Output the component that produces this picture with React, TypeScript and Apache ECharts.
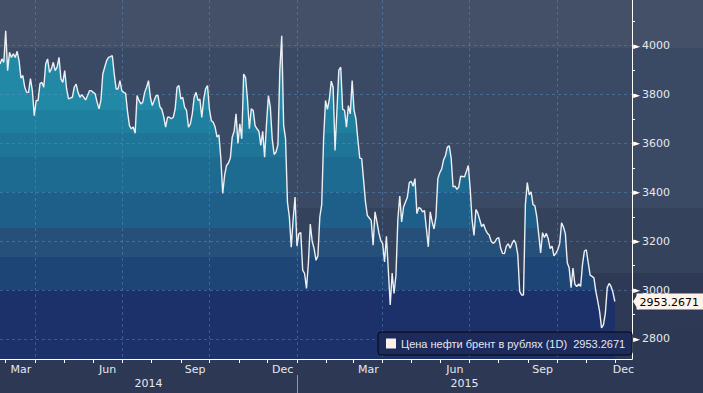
import React, { useEffect, useRef } from "react";
import * as echarts from "echarts";

// ---------- data ----------
const seriesName = "Цена нефти брент в рублях (1D)";
const startDate = "2014-02-23"; // first sample / left edge of the axis
const axisEndDate = "2015-12-19"; // right edge of the axis
const sampleStepDays = 2;
const lastPrice = 2953.2671;
const prices = [
  3925, 3946, 3932, 4061, 3898, 3973, 3952, 3967, 3952, 3977,
  3939, 3868, 3878, 3830, 3809, 3809, 3865, 3816, 3714, 3776,
  3776, 3845, 3850, 3830, 3925, 3946, 3891, 3905, 3932, 3898,
  3912, 3952, 3864, 3850, 3898, 3823, 3782, 3786, 3789, 3830,
  3843, 3809, 3789, 3800, 3789, 3778, 3796, 3816, 3816, 3809,
  3803, 3769, 3742, 3776, 3884, 3912, 3939, 3952, 3955, 3959,
  3885, 3823, 3823, 3857, 3816, 3809, 3805, 3730, 3673, 3660,
  3667, 3642, 3796, 3776, 3762, 3769, 3809, 3830, 3857, 3789,
  3755, 3776, 3796, 3796, 3750, 3740, 3710, 3667, 3707, 3707,
  3701, 3707, 3740, 3830, 3837, 3782, 3789, 3748, 3735, 3667,
  3680, 3721, 3789, 3809, 3776, 3782, 3707, 3780, 3823, 3837,
  3740, 3694, 3687, 3667, 3626, 3635, 3540, 3395, 3470, 3510,
  3520, 3540, 3626, 3650, 3721, 3600, 3680, 3619, 3884, 3870,
  3780, 3660, 3742, 3735, 3673, 3660, 3650, 3592, 3650, 3544,
  3680, 3796, 3750, 3619, 3555, 3565, 3595, 3900, 4041, 3675,
  3620, 3360, 3300, 3175, 3290, 3381, 3180, 3231, 3235, 3082,
  3068, 3007, 3110, 3270, 3200, 3170, 3122, 3140, 3299, 3350,
  3620, 3776, 3740, 3780, 3855, 3830, 3571, 3735, 3900, 3912,
  3740, 3735, 3667, 3755, 3721, 3857, 3735, 3700, 3615, 3540,
  3538, 3450, 3360, 3305, 3295, 3285, 3184, 3320, 3280, 3235,
  3204, 3190, 3115, 3220, 3080, 2939, 3070, 2986, 3060, 3290,
  3385, 3279, 3340, 3360, 3380, 3440, 3445, 3425, 3456, 3313,
  3338, 3333, 3320, 3325, 3250, 3177, 3320, 3280, 3250, 3300,
  3456, 3480, 3495, 3532, 3550, 3585, 3590, 3540, 3422, 3425,
  3412, 3422, 3466, 3465, 3463, 3485, 3510, 3415, 3286, 3224,
  3330, 3315, 3288, 3260, 3270, 3248, 3233, 3225, 3200, 3191,
  3197, 3211, 3215, 3172, 3150, 3149, 3180, 3190, 3171, 3191,
  3205, 3190, 3145, 2995, 2980, 2980, 3350, 3440, 3390, 3402,
  3350, 3345, 3300, 3228, 3152, 3235, 3215, 3232, 3210, 3170,
  3180, 3140, 3150, 3165, 3190, 3275, 3258, 3230, 3112, 3090,
  3010, 3090, 3024, 3014, 3025, 3015, 3105, 3160, 3165, 3112,
  3061, 3056, 3050, 2995, 2955, 2912, 2845, 2858, 2905, 3010,
  3027, 3015, 2990, 2953.2671,
];
const monthNames = ["Jan", "Feb", "Mar", "Apr", "May", "Jun", "Jul", "Aug", "Sep", "Oct", "Nov", "Dec"];
const labelledMonths = ["Mar", "Jun", "Sep", "Dec"];
const gridMonths = ["Jan", "Apr", "Jul", "Oct"];
const yMin = 2718;
const yMax = 4187;
const yLabelStep = 200;

// ---------- styles ----------
const FONT = "DejaVu Sans";
const TEXT = "#e4e8ef";
const GRID_LINE = "rgba(100,150,200,0.42)";
const PLOT_H = 359;
const fillBands: [number, string][] = [
  [0, "#2189a6"],
  [110, "#1f7f9f"],
  [133, "#1e7598"],
  [157, "#1d6b91"],
  [192, "#1d5f89"],
  [228, "#265079"],
  [257, "#1d4576"],
  [290, "#1c316a"],
];
const pageBackground =
  "linear-gradient(to bottom, #444f68 0px, #444f68 48px, #3b4a64 48px, #3b4a64 208px, #35425c 208px, #35425c 273px, #2e3a55 273px, #2d3954 100%)";

function buildDays(): string[] {
  const out: string[] = [];
  const d = new Date(startDate + "T00:00:00Z");
  const end = new Date(axisEndDate + "T00:00:00Z");
  while (d.getTime() <= end.getTime()) {
    out.push(d.toISOString().slice(0, 10));
    d.setUTCDate(d.getUTCDate() + 1);
  }
  return out;
}

export default function App() {
  const ref = useRef<HTMLDivElement>(null);

  useEffect(() => {
    if (!ref.current) return;
    const chart = echarts.init(ref.current, null, { renderer: "svg" });

    const days = buildDays();
    const lastIdx = days.length - 1;
    const values: (number | null)[] = days.map(() => null);
    prices.forEach((p, k) => {
      const i = k * sampleStepDays;
      if (i <= lastIdx) values[i] = p;
    });

    // month / year segments -> label at the middle of the visible span
    const monthStarts: number[] = [];
    const yearStarts: number[] = [0];
    days.forEach((d, i) => {
      if (d.endsWith("-01")) monthStarts.push(i);
      if (d.endsWith("-01-01")) yearStarts.push(i);
    });
    const monthLabelIdx = new Set<number>();
    monthStarts.forEach((s, j) => {
      const e = j + 1 < monthStarts.length ? monthStarts[j + 1] : lastIdx;
      const m = monthNames[parseInt(days[s].slice(5, 7), 10) - 1];
      if (labelledMonths.includes(m)) monthLabelIdx.add(Math.round((s + e) / 2));
    });
    const yearLabelIdx = new Set<number>();
    yearStarts.forEach((s, j) => {
      const e = j + 1 < yearStarts.length ? yearStarts[j + 1] : lastIdx;
      yearLabelIdx.add(Math.round((s + e) / 2));
    });

    const stops: { offset: number; color: string }[] = [];
    fillBands.forEach(([y, c], i) => {
      const y2 = i + 1 < fillBands.length ? fillBands[i + 1][0] : PLOT_H;
      stops.push({ offset: y / PLOT_H, color: c });
      stops.push({ offset: y2 / PLOT_H, color: c });
    });
    const areaGradient = new echarts.graphic.LinearGradient(0, 0, 0, PLOT_H, stops, true);

    chart.setOption({
      animation: false,
      backgroundColor: "transparent",
      grid: { left: 0, top: 0, right: 71, bottom: 34, containLabel: false },
      legend: {
        left: 378,
        top: 332,
        selectedMode: false,
        backgroundColor: "#1d2b5c",
        borderColor: "#05070d",
        borderWidth: 1,
        borderRadius: 3,
        padding: [6, 7, 6, 8],
        itemWidth: 10,
        itemHeight: 10,
        data: [{ name: seriesName, icon: "rect", itemStyle: { color: "#fbf1e8", borderWidth: 0 } }],
        formatter: (name: string) => `${name}  ${lastPrice.toFixed(4)}`,
        textStyle: { color: TEXT, fontSize: 11, fontFamily: "Liberation Sans" },
      },
      xAxis: [
        {
          type: "category",
          data: days,
          boundaryGap: false,
          z: 2,
          axisLine: { show: true, lineStyle: { color: "#ffffff", width: 1 } },
          axisTick: {
            show: true,
            length: 4,
            interval: (_i: number, v: string) => v.endsWith("-01"),
            lineStyle: { color: "#ffffff" },
          },
          axisLabel: {
            interval: (i: number) => monthLabelIdx.has(i),
            formatter: (v: string) => monthNames[parseInt(v.slice(5, 7), 10) - 1],
            color: TEXT,
            fontSize: 11,
            fontFamily: FONT,
            margin: 5,
          },
          splitLine: {
            show: true,
            interval: (_i: number, v: string) =>
              v.endsWith("-01") && gridMonths.includes(monthNames[parseInt(v.slice(5, 7), 10) - 1]),
            lineStyle: { color: GRID_LINE, type: [3, 3], width: 1 },
          },
        },
        {
          type: "category",
          data: days,
          boundaryGap: false,
          position: "bottom",
          offset: 16,
          z: 2,
          axisLine: { show: false },
          axisTick: {
            show: true,
            length: 18,
            interval: (_i: number, v: string) => v.endsWith("-01-01"),
            lineStyle: { color: "#8f98aa" },
          },
          axisLabel: {
            interval: (i: number) => yearLabelIdx.has(i),
            formatter: (v: string) => v.slice(0, 4),
            color: TEXT,
            fontSize: 11,
            fontFamily: FONT,
            margin: 3,
          },
          splitLine: { show: false },
        },
      ],
      yAxis: {
        type: "value",
        position: "right",
        min: yMin,
        max: yMax,
        splitNumber: 7,
        z: 2,
        axisLine: { show: true, lineStyle: { color: "#ffffff", width: 1 } },
        axisTick: { show: false },
        minorTick: { show: true, splitNumber: 2, length: 3, lineStyle: { color: "#ffffff" } },
        minorSplitLine: { show: false },
        axisLabel: {
          margin: 1,
          color: TEXT,
          fontSize: 11,
          fontFamily: FONT,
          formatter: (v: number) => (Math.abs(v % yLabelStep) < 1e-6 ? `{t|►}${v}` : ""),
          rich: { t: { fontSize: 9, width: 9, color: "#ffffff", fontFamily: FONT } },
        },
        splitLine: {
          show: true,
          showMinLine: false,
          showMaxLine: false,
          lineStyle: { color: GRID_LINE, type: [3, 3], width: 1 },
        },
        axisPointer: {
          show: true,
          type: "line",
          value: lastPrice,
          status: "show",
          triggerTooltip: false,
          lineStyle: { opacity: 0, width: 0 },
          label: {
            show: true,
            margin: 6,
            formatter: () => lastPrice.toFixed(4),
            backgroundColor: "#fdf3ea",
            color: "#000000",
            fontSize: 11,
            fontFamily: FONT,
            padding: [3, 4, 2, 3],
            borderRadius: 0,
          },
        },
      },
      series: [
        {
          name: "fill",
          type: "line",
          data: values,
          connectNulls: true,
          showSymbol: false,
          symbol: "none",
          z: 1,
          silent: true,
          lineStyle: { width: 0, opacity: 0 },
          areaStyle: { color: areaGradient, opacity: 1, origin: "start" },
        },
        {
          name: seriesName,
          type: "line",
          data: values,
          connectNulls: true,
          showSymbol: false,
          symbol: "none",
          z: 3,
          lineStyle: { color: "#eceff3", width: 1.4 },
        },
      ],
    });

    const py = chart.convertToPixel({ yAxisIndex: 0 }, lastPrice) as number;
    if (typeof py === "number" && isFinite(py)) {
      chart.setOption({
        graphic: [
          {
            type: "polygon",
            z: 100,
            shape: { points: [[633, py], [638.5, py - 8.5], [638.5, py + 8.5]] },
            style: { fill: "#fdf3ea" },
            silent: true,
          },
        ],
      });
    }

    return () => chart.dispose();
  }, []);

  return (
    <div
      style={{ position: "fixed", left: 0, top: 0, width: 703, height: 393, background: pageBackground }}
    >
      <div ref={ref} style={{ width: 703, height: 393 }} />
    </div>
  );
}
